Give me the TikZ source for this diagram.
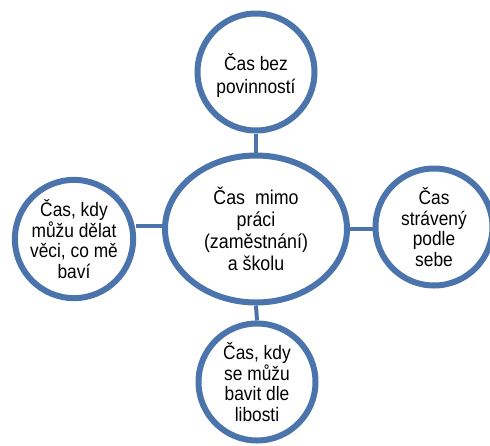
\documentclass[tikz,border=0pt]{standalone}
\usepackage{fontspec}
\setmainfont{Liberation Sans}[FakeStretch=0.89]
\usetikzlibrary{shapes.geometric,shadows}
\definecolor{ringblue}{HTML}{4A74AB}
\tikzset{
  bubble/.style={circle, draw=ringblue, line width=6pt, fill=white, inner sep=0pt,
    minimum size=117pt, align=center, font=\fontsize{19.5}{20.7}\selectfont,
    drop shadow={opacity=0.25, shadow xshift=1.5pt, shadow yshift=-2pt}},
  hub/.style={ellipse, draw=ringblue, line width=6pt, fill=white, inner sep=0pt,
    minimum width=182pt, minimum height=147pt, align=center, font=\fontsize{20}{22}\selectfont,
    drop shadow={opacity=0.25, shadow xshift=1.5pt, shadow yshift=-2pt}},
  conn/.style={draw=ringblue, line width=4pt}
}
\begin{document}
\begin{tikzpicture}[x=1pt,y=-1pt]
\useasboundingbox (0,0) rectangle (490,445);
\node[hub] (center) at (256,229) {Čas\ \ mimo\\práci\\(zaměstnání)\\a školu};
\node[bubble, align=none, font=\fontsize{19.5}{23}\selectfont] (top) at (256,72)
  {\raisebox{-10pt}[0pt][0pt]{\begin{tabular}{@{}c@{}}Čas bez\\povinností\end{tabular}}};
\node[bubble] (left) at (74,239) {Čas, kdy\\můžu dělat\\věci, co mě\\baví};
\node[bubble] (right) at (434,227) {Čas\\strávený\\podle\\sebe};
\node[bubble] (bottom) at (257,382) {Čas, kdy\\se můžu\\bavit dle\\libosti};
\draw[conn] (top.south) -- (center.north);
\draw[conn] (center.south) -- (bottom.north);
\draw[conn] ([yshift=3pt]center.west) -- ([yshift=3pt]center.west -| left.east);
\draw[conn] (center.east) -- (center.east -| right.west);
\end{tikzpicture}
\end{document}
